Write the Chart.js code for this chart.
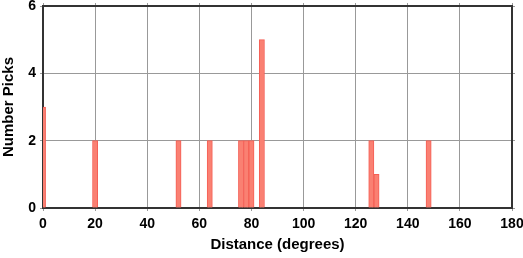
<!DOCTYPE html>
<html>
<head>
<meta charset="utf-8">
<script src="https://cdn.jsdelivr.net/npm/chart.js@4"></script>
<style>
	html, body { margin: 0; padding: 0; background: #fff; }
	#wrap { width: 523px; height: 258px; }
</style>
</head>
<body>
<div id="wrap"><canvas id="pickChart"></canvas></div>
<script>
// histogram bins (bin centre in degrees) and pick counts
const binCentres = [0, 20, 52, 64, 76, 78, 80, 84, 126, 128, 148];
const pickCounts = [3, 2, 2, 2, 2, 2, 2, 5, 2, 1, 2];
const xTicks = [0, 20, 40, 60, 80, 100, 120, 140, 160, 180];
const yTicks = [0, 2, 4, 6];

const tickFont = { family: 'Liberation Sans, Arial, sans-serif', size: 14, weight: 'bold' };
const titleFont = { family: 'Liberation Sans, Arial, sans-serif', size: 15, weight: 'bold' };
const frameColor = '#333';

function fixedTicks(values) {
	return function(scale) {
		scale.ticks = values.map(v => ({ value: v }));
	};
}

// keep the plot frame where it is, labels may hang over the edges
function fixSize(prop, size) {
	return function(scale) {
		scale[prop] = size;
		scale.paddingLeft = scale.paddingRight = 0;
		scale.paddingTop = scale.paddingBottom = 0;
	};
}

document.addEventListener('DOMContentLoaded', function() {

	const ctx = document.getElementById('pickChart').getContext('2d');

	new Chart(ctx, {
		type: 'bar',
		data: {
			datasets: [{
				label: 'Number Picks',
				data: binCentres.map((x, i) => ({ x: x, y: pickCounts[i] })),
				backgroundColor: 'rgb(250, 128, 114)',
				borderColor: 'rgb(245, 95, 85)',
				borderWidth: 1,
				barPercentage: 1,
				categoryPercentage: 1
			}]
		},
		options: {
			responsive: true,
			maintainAspectRatio: false,
			animation: false,
			layout: { padding: { top: 3, right: 8, left: 0, bottom: 0 } },
			plugins: {
				legend: { display: false },
				tooltip: { enabled: false }
			},
			scales: {
				x: {
					type: 'linear',
					position: 'bottom',
					offset: false,
					min: 0,
					max: 180,
					afterBuildTicks: fixedTicks(xTicks),
					afterFit: fixSize('height', 50),
					grid: { offset: false, color: '#999', lineWidth: 1, tickLength: 3, tickColor: '#999' },
					border: { color: frameColor, width: 2 },
					ticks: { color: '#000', font: tickFont, padding: 5, maxRotation: 0 },
					title: { display: true, text: 'Distance (degrees)', color: '#000', font: titleFont, padding: { top: 6 } }
				},
				xTop: {
					type: 'linear',
					position: 'top',
					offset: false,
					min: 0,
					max: 180,
					afterBuildTicks: fixedTicks(xTicks),
					afterFit: fixSize('height', 3),
					grid: { offset: false, drawOnChartArea: false, tickLength: 3, tickColor: '#999' },
					border: { color: frameColor, width: 2 },
					ticks: { display: false }
				},
				y: {
					min: 0,
					max: 6,
					afterBuildTicks: fixedTicks(yTicks),
					afterFit: fixSize('width', 43),
					grid: { color: '#999', lineWidth: 1, tickLength: 3, tickColor: '#999' },
					border: { color: frameColor, width: 2 },
					ticks: { color: '#000', font: tickFont, padding: 4 },
					title: { display: true, text: 'Number Picks', color: '#000', font: titleFont, padding: 0 }
				},
				yRight: {
					position: 'right',
					min: 0,
					max: 6,
					afterBuildTicks: fixedTicks(yTicks),
					afterFit: fixSize('width', 3),
					grid: { drawOnChartArea: false, tickLength: 3, tickColor: '#999' },
					border: { color: frameColor, width: 2 },
					ticks: { display: false }
				}
			}
		}
	});

});
</script>
</body>
</html>
